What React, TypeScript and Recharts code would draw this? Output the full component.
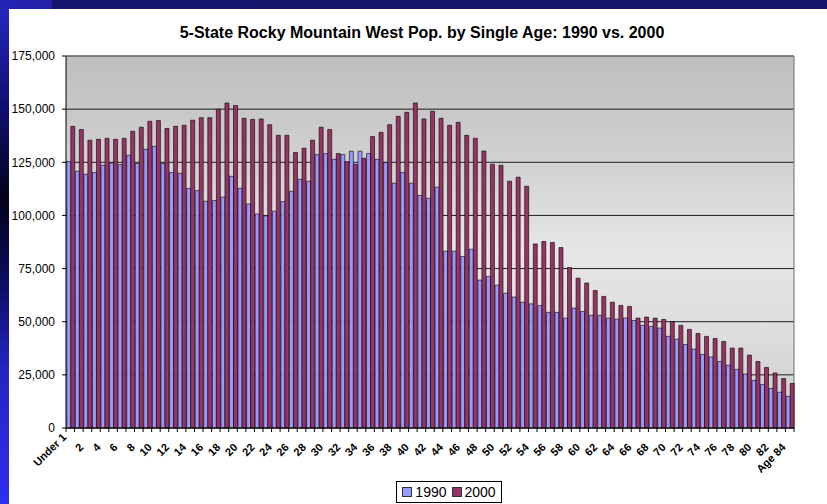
import React from "react";
import {
  BarChart,
  Bar,
  XAxis,
  YAxis,
  CartesianGrid,
  Legend,
  ReferenceLine,
} from "recharts";

const ages: string[] = [
  "Under 1", "1", "2", "3", "4", "5", "6", "7", "8", "9",
  "10", "11", "12", "13", "14", "15", "16", "17", "18", "19",
  "20", "21", "22", "23", "24", "25", "26", "27", "28", "29",
  "30", "31", "32", "33", "34", "35", "36", "37", "38", "39",
  "40", "41", "42", "43", "44", "45", "46", "47", "48", "49",
  "50", "51", "52", "53", "54", "55", "56", "57", "58", "59",
  "60", "61", "62", "63", "64", "65", "66", "67", "68", "69",
  "70", "71", "72", "73", "74", "75", "76", "77", "78", "79",
  "80", "81", "82", "83", "Age 84",
];

const pop1990: number[] = [
  125300, 120800, 119400, 120200, 123600, 124700, 123900, 128300, 124400, 131100,
  132500, 124400, 120200, 119800, 112700, 111700, 106700, 107000, 108600, 118400,
  112800, 105400, 100700, 99800, 102000, 106500, 111400, 117000, 116100, 128600,
  129100, 126400, 128600, 130200, 130200, 129100, 126400, 124900, 115200, 120200,
  115200, 109400, 108100, 113300, 83200, 83200, 80700, 84100, 69600, 71300,
  67200, 63400, 61600, 59200, 58400, 57600, 54400, 54400, 51700, 56400,
  54800, 53000, 53000, 51700, 51200, 51700, 50600, 48300, 47800, 47000,
  43100, 41800, 39300, 37100, 34600, 33400, 31300, 29600, 27600, 25400,
  22400, 20500, 18600, 16800, 14900,
];

const pop2000: number[] = [
  141900, 140400, 135400, 135800, 136300, 135800, 136300, 139600, 141500, 144300,
  144600, 140900, 141900, 142400, 144800, 146000, 146000, 150000, 152900, 151700,
  145700, 145200, 145400, 142700, 137700, 137700, 129600, 131600, 135400, 141500,
  140400, 129100, 125300, 124100, 126900, 137100, 139100, 142700, 146600, 148500,
  152900, 145400, 149000, 145700, 142400, 143800, 137700, 136300, 130300, 124100,
  123600, 116100, 118000, 113700, 86600, 87700, 87300, 84900, 75500, 70500,
  68200, 64700, 61900, 59200, 57700, 57200, 51700, 52200, 51700, 51100,
  50100, 48300, 46400, 44500, 43100, 42100, 40700, 37600, 37600, 34300,
  31300, 28500, 25900, 23300, 21000,
];

const yTicks: number[] = [0, 25000, 50000, 75000, 100000, 125000, 150000, 175000];

const seriesNames = ["1990", "2000"];
const colors = ["#9999ff", "#993366"];

const data = ages.map((age, i) => ({
  age,
  y1990: pop1990[i],
  y2000: pop2000[i],
}));

const W = 827;
const H = 504;
const MARGIN = { top: 56, right: 33, left: 6, bottom: 0 };
const Y_AXIS_W = 60;
const PLOT_W = W - MARGIN.left - MARGIN.right - Y_AXIS_W;
const FONT = "'Liberation Sans', Arial, Helvetica, sans-serif";

const AgeTick = (props: any) => {
  const { x, y, payload, index } = props;
  const n = ages.length;
  const bw =
    payload && typeof payload.offset === "number" && payload.offset > 0
      ? payload.offset * 2
      : PLOT_W / n;
  const left = x - bw / 2;
  const label: string = payload.value;
  const raised = index === 0;
  const ax = x - 3.3;
  const ay = y + (raised ? 10 : 20);
  return (
    <g>
      <line x1={left} x2={left} y1={y} y2={y + 4} stroke="#000" strokeWidth={1} />
      {index === n - 1 && (
        <line x1={x + bw / 2} x2={x + bw / 2} y1={y} y2={y + 4} stroke="#000" strokeWidth={1} />
      )}
      {index % 2 === 0 && (
        <text
          x={ax}
          y={ay}
          textAnchor="end"
          transform={`rotate(-45, ${ax}, ${ay})`}
          fontFamily={FONT}
          fontSize={11}
          fontWeight="bold"
          fill="#000"
        >
          {label}
        </text>
      )}
    </g>
  );
};

const LegendBox = () => (
  <div
    style={{
      boxSizing: "border-box",
      width: 106,
      height: 22,
      border: "1px solid #000",
      background: "#fff",
      display: "flex",
      alignItems: "center",
      justifyContent: "center",
      fontFamily: FONT,
      fontSize: 14,
      color: "#000",
    }}
  >
    {seriesNames.map((s, i) => (
      <span key={s} style={{ display: "flex", alignItems: "center", marginRight: i === 0 ? 5 : 0 }}>
        <span
          style={{
            display: "inline-block",
            width: 8,
            height: 8,
            background: colors[i],
            border: "1px solid #333",
            marginRight: 3,
          }}
        />
        {s}
      </span>
    ))}
  </div>
);

export default function App() {
  return (
    <div
      style={{
        position: "absolute",
        left: 0,
        top: 0,
        width: W,
        height: H,
        background: "#fff",
        overflow: "hidden",
      }}
    >
      <div
        style={{
          position: "absolute",
          left: 0,
          top: 0,
          width: W,
          height: 9,
          background: "linear-gradient(to right, #2424b4 0px, #2020a8 52px, #15156e 52px, #141468 100%)",
        }}
      />
      <div
        style={{
          position: "absolute",
          left: 0,
          top: 9,
          width: 9,
          height: H - 9,
          background:
            "linear-gradient(to bottom, #2626c0 0%, #101070 20%, #02021a 38%, #0c0c60 55%, #2424c0 72%, #2e2ef0 100%)",
        }}
      />
      <div
        style={{
          position: "absolute",
          left: 22,
          top: 24,
          width: 800,
          textAlign: "center",
          fontFamily: FONT,
          fontWeight: "bold",
          fontSize: 16,
          color: "#000",
          lineHeight: "18px",
          whiteSpace: "nowrap",
        }}
      >
        5-State Rocky Mountain West Pop. by Single Age: 1990 vs. 2000
      </div>
      <div style={{ position: "absolute", left: 0, top: 0 }}>
        <BarChart
          width={W}
          height={H}
          data={data}
          margin={MARGIN}
          barCategoryGap="9%"
          barGap={0}
        >
          <defs>
            <linearGradient id="plotBg" x1="0" y1="0" x2="0" y2="1">
              <stop offset="0%" stopColor="#bebebe" />
              <stop offset="30%" stopColor="#d2d2d2" />
              <stop offset="52%" stopColor="#e6e6e6" />
              <stop offset="75%" stopColor="#dddddd" />
              <stop offset="100%" stopColor="#cacaca" />
            </linearGradient>
          </defs>
          <CartesianGrid
            vertical={false}
            stroke="#1e1e1e"
            strokeWidth={1}
            fill="url(#plotBg)"
            fillOpacity={1}
          />
          <CartesianGrid
            horizontal={false}
            stroke="#808080"
            strokeWidth={1.2}
            verticalCoordinatesGenerator={({ offset }: any) => [offset.left + offset.width]}
          />
          <ReferenceLine y={175000} stroke="#808080" strokeWidth={1.2} />
          <XAxis
            dataKey="age"
            interval={0}
            tickLine={false}
            tickSize={0}
            tickMargin={0}
            height={54}
            axisLine={{ stroke: "#000", strokeWidth: 1 }}
            tick={<AgeTick />}
          />
          <YAxis
            width={Y_AXIS_W}
            domain={[0, 175000]}
            ticks={yTicks}
            interval={0}
            tickSize={4}
            tickMargin={7}
            axisLine={{ stroke: "#000", strokeWidth: 1 }}
            tickLine={{ stroke: "#000", strokeWidth: 1 }}
            tick={{ fontFamily: FONT, fontSize: 12, fill: "#000" }}
            tickFormatter={(v: number) => v.toLocaleString("en-US")}
          />
          <Legend
            verticalAlign="bottom"
            content={() => <LegendBox />}
            wrapperStyle={{ position: "absolute", left: 396, bottom: 1, width: 106, height: 22 }}
          />
          <Bar
            dataKey="y1990"
            name={seriesNames[0]}
            fill={colors[0]}
            stroke="#000"
            strokeWidth={0.6}
            isAnimationActive={false}
          />
          <Bar
            dataKey="y2000"
            name={seriesNames[1]}
            fill={colors[1]}
            stroke="#000"
            strokeWidth={0.6}
            isAnimationActive={false}
          />
        </BarChart>
      </div>
    </div>
  );
}
